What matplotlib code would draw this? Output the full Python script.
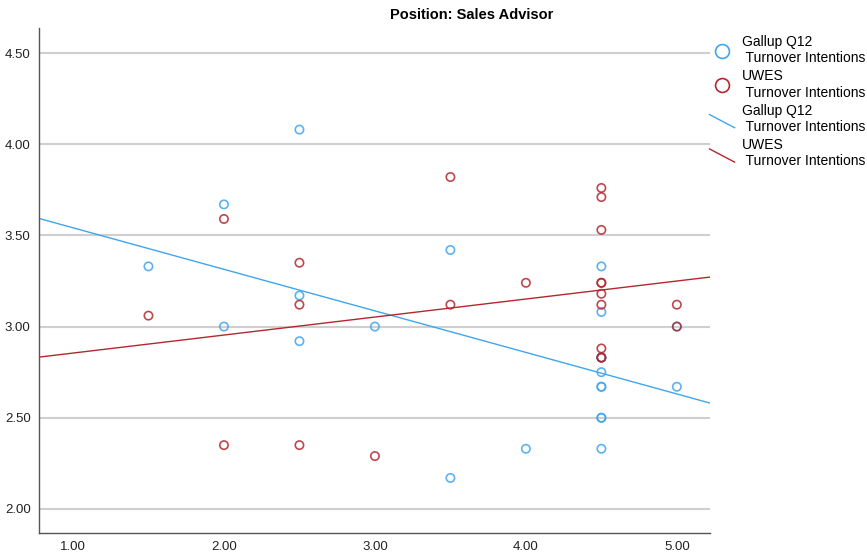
import numpy as np
import matplotlib.pyplot as plt
from matplotlib.lines import Line2D
from matplotlib.legend_handler import HandlerLine2D

plt.rcParams['font.family'] = ['Liberation Sans', 'DejaVu Sans']

# Engagement scores (x) and turnover intentions (y) for sales advisors
gallup_x = [1.5, 2.0, 2.0, 2.5, 2.5, 2.5, 3.0, 3.5, 3.5, 4.0,
            4.5, 4.5, 4.5, 4.5, 4.5, 4.5, 4.5, 4.5, 4.5, 4.5, 5.0, 5.0]
gallup_y = [3.33, 3.67, 3.00, 4.08, 3.17, 2.92, 3.00, 3.42, 2.17, 2.33,
            3.33, 3.08, 2.83, 2.83, 2.75, 2.67, 2.67, 2.50, 2.50, 2.33, 2.67, 3.00]

uwes_x = [1.5, 2.0, 2.0, 2.5, 2.5, 2.5, 3.0, 3.5, 3.5, 4.0,
          4.5, 4.5, 4.5, 4.5, 4.5, 4.5, 4.5, 4.5, 4.5, 4.5, 5.0, 5.0]
uwes_y = [3.06, 3.59, 2.35, 3.35, 3.12, 2.35, 2.29, 3.82, 3.12, 3.24,
          3.76, 3.71, 3.53, 3.24, 3.24, 3.18, 3.12, 2.88, 2.83, 2.83, 3.12, 3.00]

x_ticks = [1.0, 2.0, 3.0, 4.0, 5.0]
y_ticks = [2.0, 2.5, 3.0, 3.5, 4.0, 4.5]

blue = '#3fa6ee'
red = '#b2282e'


class DiagonalLineHandler(HandlerLine2D):
    # legend entry for fit lines drawn as a short sloped stroke
    def create_artists(self, legend, orig_handle, xdescent, ydescent,
                       width, height, fontsize, trans):
        line = Line2D([0, width], [height * 1.0, -height * 0.35],
                      color=orig_handle.get_color(), lw=orig_handle.get_linewidth())
        line.set_transform(trans)
        return [line]


fig = plt.figure(figsize=(8.67, 5.55), dpi=100)
ax = fig.add_axes([0.045, 0.0396, 0.774, 0.9099])

xmin, xmax = 0.775, 5.22
ax.set_xlim(xmin, xmax)
ax.set_ylim(1.868, 4.637)

for v in y_ticks:
    ax.axhline(v, color='#cfcfcf', lw=1.5, zorder=0)

# regression fit lines
xs = np.array([xmin, xmax])
for xv, yv, c in [(gallup_x, gallup_y, blue), (uwes_x, uwes_y, red)]:
    k, b = np.polyfit(xv, yv, 1)
    ax.plot(xs, k * xs + b, color=c, lw=1.0, zorder=2)

ax.scatter(gallup_x, gallup_y, s=36, facecolors='none', edgecolors=blue,
           linewidths=1.2, alpha=0.85, zorder=3)
ax.scatter(uwes_x, uwes_y, s=36, facecolors='none', edgecolors=red,
           linewidths=1.2, alpha=0.85, zorder=3)

ax.set_xticks(x_ticks)
ax.set_xticklabels([f'{v:.2f}' for v in x_ticks])
ax.set_yticks(y_ticks)
ax.set_yticklabels([f'{v:.2f}' for v in y_ticks])
ax.tick_params(length=0, labelsize=9.5, colors='#222222')
ax.tick_params(axis='x', pad=6)
ax.tick_params(axis='y', pad=6)

for side in ['top', 'right']:
    ax.spines[side].set_visible(False)
for side in ['left', 'bottom']:
    ax.spines[side].set_color('#555555')
    ax.spines[side].set_linewidth(1.0)

fig.text(472 / 867, 1 - 15 / 555, 'Position: Sales Advisor', fontsize=10.5,
         fontweight='bold', ha='center', va='center')

handles = [
    Line2D([], [], ls='none', marker='o', ms=10, mfc='none', mec=blue, mew=1.2),
    Line2D([], [], ls='none', marker='o', ms=10, mfc='none', mec=red, mew=1.2),
    Line2D([], [], color=blue, lw=1.0),
    Line2D([], [], color=red, lw=1.0),
]
labels = ['Gallup Q12\n Turnover Intentions', 'UWES\n Turnover Intentions',
          'Gallup Q12\n Turnover Intentions', 'UWES\n Turnover Intentions']
fig.legend(handles, labels, loc='upper left', bbox_to_anchor=(0.812, 0.947),
           frameon=False, fontsize=10, handlelength=1.8, handletextpad=0.5,
           labelspacing=0.3, borderaxespad=0,
           handler_map={handles[2]: DiagonalLineHandler(),
                        handles[3]: DiagonalLineHandler()})

fig.savefig('out.png', dpi=100)
